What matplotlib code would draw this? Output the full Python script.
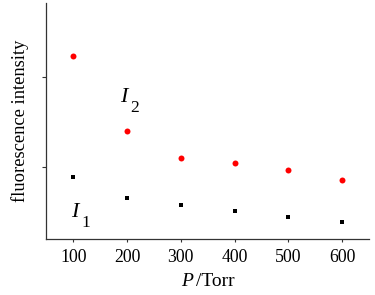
import matplotlib.pyplot as plt

plt.rcParams['font.family'] = ['Liberation Serif', 'DejaVu Serif']

pressure = [100, 200, 300, 400, 500, 600]
i2 = [2.23, 1.40, 1.10, 1.04, 0.97, 0.85]
i1 = [0.89, 0.66, 0.58, 0.51, 0.44, 0.39]
x_ticks = [100, 200, 300, 400, 500, 600]

fig = plt.figure(figsize=(3.75, 2.95), dpi=100)
ax = fig.add_axes([0.1235, 0.19, 0.8605, 0.80])

ax.plot(pressure, i2, 'o', color='red', markersize=4.3, markeredgewidth=0)
ax.plot(pressure, i1, 's', color='black', markersize=3.4, markeredgewidth=0)

ax.set_xlim(50, 650)
ax.set_ylim(0.2, 2.82)
ax.set_xticks(x_ticks)
ax.set_yticks([1, 2])
ax.set_yticklabels([])
ax.tick_params(axis='x', length=2.5, width=0.8, labelsize=12.8, pad=5, color='#333333')
ax.tick_params(axis='y', length=3, width=0.8, color='#333333')

for s in ['top', 'right']:
    ax.spines[s].set_visible(False)
for s in ['left', 'bottom']:
    ax.spines[s].set_color('#333333')
    ax.spines[s].set_linewidth(0.9)

ax.set_ylabel('fluorescence intensity', fontsize=13.3, labelpad=6)

# x label: italic P then /Torr
fig.text(181 / 375, 0.03, 'P', fontsize=14, style='italic', ha='left', va='baseline')
fig.text(196 / 375, 0.03, '/Torr', fontsize=14, ha='left', va='baseline')

ax.text(187, 1.72, 'I', fontsize=16, style='italic', va='baseline')
ax.text(207, 1.61, '2', fontsize=12.5, va='baseline')
ax.text(96, 0.444, 'I', fontsize=16, style='italic', va='baseline')
ax.text(116, 0.333, '1', fontsize=12.5, va='baseline')

fig.savefig('out.png', dpi=100)
